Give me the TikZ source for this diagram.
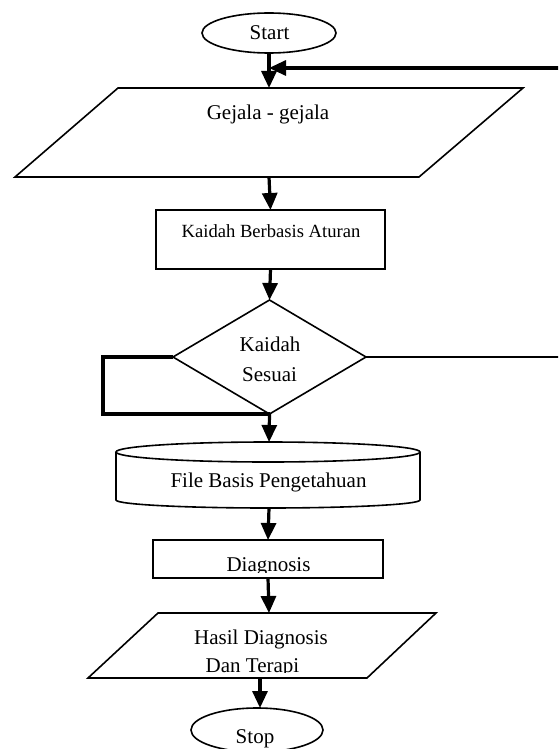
\documentclass[tikz,border=0pt]{standalone}
\usepackage{fontspec}
\setmainfont{Liberation Serif}
\usetikzlibrary{arrows.meta,shapes.geometric}
\begin{document}
\begin{tikzpicture}[x=1pt,y=-1pt,
  outline/.style={draw=black,line width=1.6pt},
  flow/.style={draw=black,line width=3.2pt,-{Triangle[length=17pt,width=15pt]}},
  loopline/.style={draw=black,line width=3.2pt},
  thinline/.style={draw=black,line width=2pt},
  lbl/.style={font=\fontsize{21}{25}\selectfont,anchor=base,inner sep=0pt},
  smalllbl/.style={font=\fontsize{18.6}{22}\selectfont,anchor=base,inner sep=0pt},
  term/.style={ellipse,outline,minimum width=134pt,minimum height=40pt,inner sep=0pt,outer sep=0pt},
  boxnode/.style={rectangle,outline,inner sep=0pt,outer sep=0pt}]
\clip (0,0) rectangle (558,749);
\useasboundingbox (0,0) rectangle (558,749);
\fill[white] (0,0) rectangle (558,749);

% Start
\node[term] (start) at (269,33) {};
\node[lbl] (starttxt) at (269.5,40) {Start};

% Gejala parallelogram
\draw[outline] (118,88) -- (523,88) -- (419,177) -- (15,177) -- cycle;
\coordinate (gtop) at (269,88);
\coordinate (gbot) at (269,177);
\node[lbl] (gejala) at (268,120) {Gejala - gejala};

% Rule box
\node[boxnode,minimum width=229pt,minimum height=59pt] (rule) at (270.5,239.5) {};
\node[smalllbl] (ruletxt) at (271,237) {Kaidah Berbasis Aturan};

% Decision
\node[diamond,outline,minimum width=193pt,minimum height=114pt,inner sep=0pt,outer sep=0pt] (dia) at (269.5,357) {};
\node[lbl] (dia1) at (270,351) {Kaidah};
\node[lbl] (dia2) at (269.5,381) {Sesuai};

% Cylinder (knowledge base)
\draw[outline,fill=white] (116,452) -- (116,500) arc[start angle=180,end angle=0,x radius=152,y radius=8] -- (420,452);
\draw[outline] (268,452) ellipse[x radius=152,y radius=10];
\coordinate (cyltop) at (269,442);
\coordinate (cylbot) at (269,508);
\node[lbl] (cyltxt) at (268.5,487) {File Basis Pengetahuan};

% Diagnosis box
\node[boxnode,minimum width=230pt,minimum height=38pt] (diag) at (268,559) {};
\begin{scope}
\clip (150,540) rectangle (390,572);
\node[lbl] (diagtxt) at (268.5,571) {Diagnosis};
\end{scope}

% Result parallelogram
\draw[outline] (158,613) -- (436,613) -- (367,678) -- (88,678) -- cycle;
\coordinate (htop) at (269,613);
\coordinate (hbot) at (260,678);
\node[lbl] (hasil1) at (261,644) {Hasil Diagnosis};
\begin{scope}
\clip (150,650) rectangle (390,672.5);
\node[lbl] (hasil2) at (252.5,672) {Dan Terapi};
\end{scope}

% Stop
\node[term,minimum width=132pt,minimum height=44pt] (stop) at (257,730) {};
\node[lbl] (stoptxt) at (255,743) {Stop};

% Connectors
\draw[flow] (start.south) -- (gtop);
\coordinate (fbin) at (269,68);
\coordinate (rtop) at (585,68);
\coordinate (rmid) at (585,357);
\draw[thinline] (dia.east) -- (rmid);
\draw[loopline] (rmid) -- (rtop);
\draw[flow] (rtop) -- (fbin);
\draw[flow] (gbot) -- (rule.north);
\draw[flow] (rule.south) -- (dia.north);
\coordinate (lft) at (103,357);
\draw[loopline,line join=miter] (dia.west) -- (lft) |- (dia.south);
\draw[flow] (dia.south) -- (cyltop);
\draw[flow] (cylbot) -- (diag.north);
\draw[flow] (diag.south) -- (htop);
\draw[flow] (hbot) -- (stop.north -| hbot);
\end{tikzpicture}
\end{document}
